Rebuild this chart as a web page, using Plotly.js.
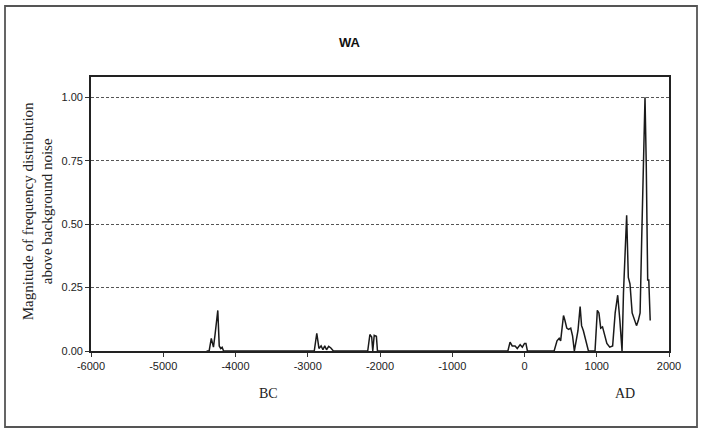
<!DOCTYPE html>
<html>
<head>
<meta charset="utf-8">
<script src="https://cdn.plot.ly/plotly-3.0.1.min.js"></script>
<style>html,body{margin:0;padding:0;background:#fff;}#chart{width:703px;height:433px;}</style>
</head>
<body>
<div id="chart"></div>
<script>
// Year (negative = BC) and magnitude
const years = [
  -4400, -4365, -4335, -4305, -4285, -4245, -4225, -4205, -4185, -4165,
  -2910, -2875, -2845, -2815, -2790, -2765, -2740, -2710, -2680, -2645,
  -2170, -2140, -2115, -2100, -2080, -2050, -2035,
  -230, -200, -170, -130, -100, -60, -30, 0, 20, 40,
  410, 450, 480, 500, 540, 560, 585, 610, 640, 665, 690,
  715, 740, 770, 790, 815, 840, 870, 885,
  976, 1008, 1030, 1055, 1080, 1110, 1140, 1180, 1220, 1255, 1290, 1320, 1350,
  1370, 1414, 1437, 1460, 1490, 1520, 1550, 1575, 1600, 1622, 1645, 1668, 1685, 1705, 1720, 1740
];
const magnitude = [
  0, 0, 0.05, 0.015, 0.06, 0.16, 0.02, 0.01, 0.015, 0,
  0, 0.07, 0.01, 0.02, 0.005, 0.02, 0.005, 0.018, 0.012, 0,
  0, 0.065, 0.055, 0, 0.062, 0.058, 0,
  0, 0.035, 0.02, 0.02, 0.01, 0.025, 0.015, 0.03, 0.03, 0,
  0, 0.04, 0.05, 0.04, 0.14, 0.12, 0.09, 0.085, 0.09, 0.06, 0,
  0.04, 0.08, 0.175, 0.1, 0.08, 0.055, 0.02, 0,
  0, 0.16, 0.15, 0.09, 0.095, 0.06, 0.03, 0.015, 0.02, 0.15, 0.22, 0.12, 0,
  0.23, 0.535, 0.29, 0.265, 0.15, 0.12, 0.1, 0.12, 0.15, 0.44, 0.75, 1.00, 0.74, 0.28, 0.28, 0.12
];
const yTickVals = [0, 0.25, 0.5, 0.75, 1.0];
const yTickText = ["0.00", "0.25", "0.50", "0.75", "1.00"];
const xTickVals = [-6000, -5000, -4000, -3000, -2000, -1000, 0, 1000, 2000];
const xTickText = ["-6000", "-5000", "-4000", "-3000", "-2000", "-1000", "0", "1000", "2000"];

const trace = {
  x: years, y: magnitude, type: "scatter", mode: "lines",
  line: {color: "#1a1a1a", width: 1.5},
  hoverinfo: "skip", showlegend: false
};

const tickFont = {family: "Liberation Sans, Arial, sans-serif", size: 11, color: "#222222"};
const serif = "Liberation Serif, Times New Roman, serif";

const layout = {
  width: 703, height: 433,
  margin: {l: 91, r: 34, t: 77, b: 82},
  paper_bgcolor: "#fff", plot_bgcolor: "#fff",
  title: {text: "<b>WA</b>", font: {family: "Liberation Sans, Arial, sans-serif", size: 13, color: "#111"},
          x: 0.497, xanchor: "center", y: 1 - 42/433, yanchor: "middle"},
  xaxis: {
    range: [-6000, 2000], tickvals: xTickVals, ticktext: xTickText,
    ticks: "outside", ticklen: 4, tickcolor: "#333", tickwidth: 1,
    showline: true, linecolor: "#222", linewidth: 1.8, mirror: true,
    showgrid: false, zeroline: false, tickfont: tickFont, fixedrange: true
  },
  yaxis: {
    range: [0, 1.08], tickvals: yTickVals, ticktext: yTickText,
    ticks: "outside", ticklen: 4, tickcolor: "#333", tickwidth: 1,
    showline: true, linecolor: "#222", linewidth: 1.8, mirror: true,
    showgrid: true, gridcolor: "#555", gridwidth: 1, griddash: "3px,2px",
    zeroline: false, tickfont: tickFont, fixedrange: true
  },
  annotations: [
    {text: "Magnitude of frequency distribution<br>above background noise", xref: "paper", yref: "paper",
     x: (38 - 91) / 578, y: 0.51, xanchor: "center", yanchor: "middle", textangle: -90, showarrow: false,
     font: {family: serif, size: 15, color: "#222"}},
    {text: "BC", xref: "paper", yref: "paper", x: (268 - 91) / 578, y: (351 - 393) / 274,
     xanchor: "center", yanchor: "middle", showarrow: false, font: {family: serif, size: 14, color: "#222"}},
    {text: "AD", xref: "paper", yref: "paper", x: (625 - 91) / 578, y: (351 - 393) / 274,
     xanchor: "center", yanchor: "middle", showarrow: false, font: {family: serif, size: 14, color: "#222"}}
  ],
  shapes: [
    {type: "rect", xref: "paper", yref: "paper",
     x0: (5 - 91) / 578, x1: (697 - 91) / 578, y0: (351 - 427) / 274, y1: (351 - 6) / 274,
     line: {color: "#555", width: 1.8}, fillcolor: "rgba(0,0,0,0)", layer: "below"}
  ]
};

Plotly.newPlot("chart", [trace], layout, {staticPlot: true, displayModeBar: false});
</script>
</body>
</html>
